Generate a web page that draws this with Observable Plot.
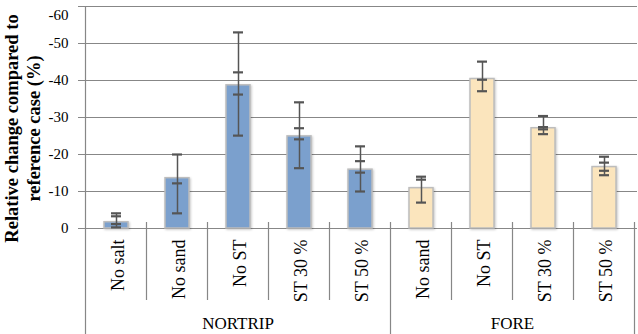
<!DOCTYPE html>
<html>
<head>
<meta charset="utf-8">
<script src="https://cdn.jsdelivr.net/npm/d3@7"></script>
<script src="https://cdn.jsdelivr.net/npm/@observablehq/plot@0.6"></script>
<style>
  html, body { margin: 0; padding: 0; background: white; }
  #chart svg { display: block; font-family: "Liberation Serif", "DejaVu Serif", serif; }
  #chart svg text { font-family: "Liberation Serif", "DejaVu Serif", serif; }
  g[aria-label="bar"] rect { filter: drop-shadow(1.5px 1.5px 1px rgba(0,0,0,0.22)); }
</style>
</head>
<body>
<div id="chart"></div>
<script>
// ---- data ----
const groups = ["NORTRIP", "NORTRIP", "NORTRIP", "NORTRIP", "NORTRIP", "FORE", "FORE", "FORE", "FORE"];
const cases = ["No salt", "No sand", "No ST", "ST 30 %", "ST 50 %", "No sand", "No ST", "ST 30 %", "ST 50 %"];
const values = [-1.7, -13.6, -38.7, -24.9, -15.9, -10.9, -40.4, -27.1, -16.6];
const outerLow = [-0.3, -4.1, -25.1, -16.3, -10.0, -7.0, -37.1, -25.5, -14.4];
const outerHigh = [-4.1, -20.0, -53.0, -34.1, -22.2, -14.0, -45.1, -30.4, -19.4];
const innerLow = [-1.2, -12.2, -36.2, -24.1, -15.1, -13.2, -40.2, -26.8, -15.6];
const innerHigh = [-3.3, null, -42.2, -27.1, -18.2, null, null, -27.4, -17.8];
const yTicks = [0, -10, -20, -30, -40, -50, -60];
const groupNames = ["NORTRIP", "FORE"];
const yTitle = "Relative change compared to\nreference case (%)";

// ---- tables built from the arrays ----
const keys = cases.map((c, i) => groups[i] + " · " + c);
const data = cases.map((c, i) => ({
  key: keys[i], group: groups[i], label: c, value: values[i],
  lo: outerLow[i], hi: outerHigh[i]
}));
const caps = [];
data.forEach((d, i) => {
  [outerLow[i], outerHigh[i], innerLow[i], innerHigh[i]].forEach(v => {
    if (v !== null && v !== undefined) caps.push({key: d.key, v});
  });
});

const serif = '"Liberation Serif", "DejaVu Serif", serif';
const grid = "#878787";
const chart = Plot.plot({
  width: 638,
  height: 334,
  marginLeft: 83,
  marginRight: 1,
  marginTop: 6,
  marginBottom: 106,
  style: {fontFamily: serif, fontSize: "15px", background: "white", color: "black"},
  x: {domain: keys, paddingInner: 0.6, paddingOuter: 0.3, axis: null},
  y: {domain: [0, -60], axis: null},
  color: {domain: groupNames, range: ["#7ba0cd", "#fbe5bd"]},
  marks: [
    Plot.ruleY(yTicks, {y: d => d, stroke: grid, strokeWidth: 1.2}),
    Plot.barY(data, {x: "key", y1: 0, y2: "value", fill: "group", stroke: "#bdbdbd", strokeWidth: 1.5}),
    Plot.ruleX(data, {x: "key", y1: "lo", y2: "hi", stroke: "#555", strokeWidth: 1.5}),
    Plot.tickY(caps, {x: "key", y: "v", stroke: "#555", strokeWidth: 2.2, insetLeft: 7, insetRight: 7}),
    Plot.axisY({ticks: yTicks, tickSize: 5, tickPadding: 10, tickFormat: d => String(d), stroke: grid, fill: "black", fontSize: 15, textStroke: "none"}),
    Plot.text(data, {x: "key", frameAnchor: "bottom", text: "label", rotate: -90, textAnchor: "end", lineAnchor: "middle", dy: 11, dx: 2, fontSize: 18, fill: "black"}),
    Plot.text([yTitle], {frameAnchor: "left", text: d => d, rotate: -90, lineAnchor: "middle", textAnchor: "middle", dx: -62, dy: 11, fontSize: 18.5, fontWeight: "bold", lineHeight: 1.2, fill: "black"})
  ]
});
document.getElementById("chart").appendChild(chart);

// nudge the top tick label so it is not clipped at the top edge
d3.select(chart).selectAll('g[aria-label="y-axis tick label"] text')
  .filter(function () { return this.textContent === "-60"; })
  .attr("dy", "0.55em");

// ---- category separators and group labels from the library's x / y scales ----
const xs = chart.scale("x");
const ys = chart.scale("y");
const dom = xs.domain;
const bw = xs.bandwidth;
const step = xs.apply(dom[1]) - xs.apply(dom[0]);
const gap = (step - bw) / 2;
const y0 = ys.apply(0);
const yTop = ys.apply(-60);
const H = 334;
const svg = d3.select(chart);
const g = svg.append("g").attr("stroke", grid).attr("stroke-width", 1.2);
for (let i = 0; i <= dom.length; i++) {
  const xb = i < dom.length ? xs.apply(dom[i]) - gap : xs.apply(dom[dom.length - 1]) + bw + gap;
  const isGroup = i === 0 || i === dom.length || groups[i] !== groups[i - 1];
  g.append("line")
    .attr("x1", xb).attr("x2", xb)
    .attr("y1", i === 0 ? yTop : y0 - 6)
    .attr("y2", isGroup ? H : y0 + 72);
}
const tg = svg.append("g")
  .attr("font-size", 17).attr("text-anchor", "middle").attr("fill", "black");
groupNames.forEach(name => {
  const ks = keys.filter((k, i) => groups[i] === name);
  const cx = (xs.apply(ks[0]) + xs.apply(ks[ks.length - 1]) + bw) / 2;
  tg.append("text").attr("x", cx).attr("y", H - 5).text(name);
});
</script>
</body>
</html>
